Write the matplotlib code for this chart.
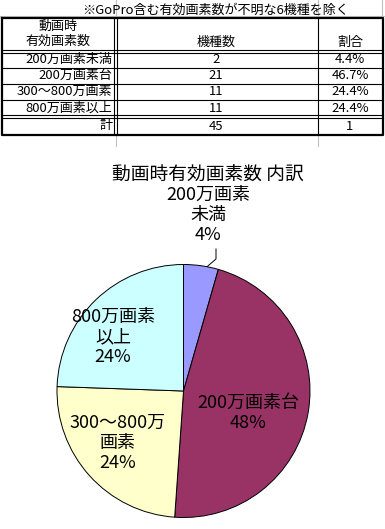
import matplotlib
matplotlib.use("Agg")
import matplotlib.pyplot as plt
import numpy as np

plt.rcParams['font.family'] = ['Noto Sans CJK JP', 'DejaVu Sans']

# data
note = "※GoPro含む有効画素数が不明な6機種を除く"
header = ["動画時\n有効画素数", "機種数", "割合"]
categories = ["200万画素未満", "200万画素台", "300～800万画素", "800万画素以上"]
counts = [2, 21, 11, 11]
shares = ["4.4%", "46.7%", "24.4%", "24.4%"]
total_label = "計"
total_count = 45
total_share = "1"

pie_title = "動画時有効画素数 内訳"
pie_labels = ["200万画素\n未満", "200万画素台", "300～800万\n画素", "800万画素\n以上"]
pie_pcts = ["4%", "48%", "24%", "24%"]
pie_colors = ["#9999FF", "#993366", "#FFFFCC", "#CCFFFF"]

W, H = 385, 529
fig = plt.figure(figsize=(W / 100, H / 100), dpi=100)
bg = fig.add_axes([0, 0, 1, 1])
bg.set_xlim(0, W)
bg.set_ylim(H, 0)
bg.axis("off")

# spreadsheet grid (light gray)
gray = "#c0c0c0"
bg.plot([0, W], [15.5, 15.5], color=gray, lw=0.8)
for x in (116, 318, 382):
    bg.plot([x, x], [0, 16], color=gray, lw=0.8)
for x in (116, 318):
    bg.plot([x, x], [135, 146], color=gray, lw=0.8)

# table frame
x0, x1, x2, x3 = 2, 115, 318, 383
y_top, y_head, y_tot, y_bot = 17.5, 51, 116.5, 134.5
row_lines = [67.5, 83.5, 99.5]
bg.plot([x0, x3, x3, x0, x0], [y_top, y_top, y_bot, y_bot, y_top], color="black", lw=1.6)
for y in (y_head - 1.5, y_head + 1.5, y_tot - 1.5, y_tot + 1.5):
    bg.plot([x0, x3], [y, y], color="black", lw=0.8)
for y in row_lines:
    bg.plot([x0, x3], [y, y], color="black", lw=0.8)
for x in (x1 - 1.5, x1 + 1.5):
    bg.plot([x, x], [y_top, y_bot], color="black", lw=0.8)
bg.plot([x2, x2], [y_top, y_bot], color="black", lw=0.8)

fs = 9.4
bg.text(215, 10, note, ha="center", va="center", fontsize=fs)
bg.text(58, 34, header[0], ha="center", va="center", fontsize=fs, linespacing=1.2)
bg.text(216, 42, header[1], ha="center", va="center", fontsize=fs)
bg.text(350, 42, header[2], ha="center", va="center", fontsize=fs)

row_centers = [59.5, 75.5, 91.5, 108]
for yc, cat, c, s in zip(row_centers, categories, counts, shares):
    bg.text(112, yc, cat, ha="right", va="center", fontsize=fs)
    bg.text(216, yc, str(c), ha="center", va="center", fontsize=fs)
    bg.text(350, yc, s, ha="center", va="center", fontsize=fs)
bg.text(112, 126, total_label, ha="right", va="center", fontsize=fs)
bg.text(216, 126, str(total_count), ha="center", va="center", fontsize=fs)
bg.text(350, 126, total_share, ha="center", va="center", fontsize=fs)

# pie chart
cx, cy, r = 183.5, 391, 126.5
ax = fig.add_axes([(cx - r) / W, (H - cy - r) / H, 2 * r / W, 2 * r / H])
wedges, _ = ax.pie(counts, colors=pie_colors, startangle=90, counterclock=False,
                   radius=1, wedgeprops=dict(edgecolor="black", linewidth=0.7))
ax.set_xlim(-1, 1)
ax.set_ylim(-1, 1)
ax.axis("off")

bg.text(208, 175, pie_title, ha="center", va="center", fontsize=13.5)

lfs = 13
def px(x, y):
    return (x - cx) / r, (cy - y) / r

label_pos = [(208, 215), (248, 413), (118, 443), (113, 337)]
for (lx, ly), lab, pct in zip(label_pos, pie_labels, pie_pcts):
    tx, ty = px(lx, ly)
    ax.text(tx, ty, lab + "\n" + pct, ha="center", va="center", fontsize=lfs,
            linespacing=1.15, clip_on=False)

# leader line for smallest slice
w0 = wedges[0]
mid = np.deg2rad((w0.theta1 + w0.theta2) / 2)
ex, ey = np.cos(mid) + 0.05, np.sin(mid) - 0.005
kx, ky = px(216, 259)
tx, ty = px(216, 249)
ax.plot([ex, kx, kx], [ey, ky, ty], color="black", lw=0.7, clip_on=False)

fig.savefig("out.png", dpi=100)
